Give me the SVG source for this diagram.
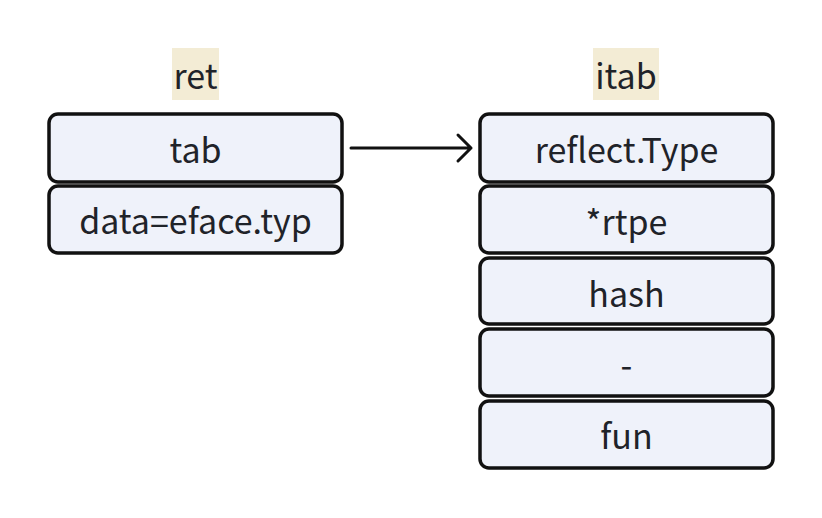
<svg xmlns="http://www.w3.org/2000/svg" width="822" height="518" viewBox="0 0 822 518">
<style>
.box{fill:#eff2fa;stroke:#111;stroke-width:3.5}
.hl{fill:#f3ecd5}
text{font-family:"Noto Sans CJK SC","Noto Sans",sans-serif;font-size:34px;fill:#1f2329;text-anchor:middle}
.conn{stroke:#111;stroke-width:3;fill:none;stroke-linecap:round;stroke-linejoin:round}
</style>
<rect width="822" height="518" fill="#fff"/>
<g id="label-ret"><rect class="hl" x="172" y="48" width="47" height="52"/><text x="195.5" y="89">ret</text></g>
<g id="label-itab"><rect class="hl" x="593" y="48" width="66" height="52"/><text x="626" y="89">itab</text></g>
<g id="ret-tab"><rect class="box" x="49" y="114" width="293" height="68" rx="9"/><text x="195.5" y="163">tab</text></g>
<g id="ret-data"><rect class="box" x="49" y="186" width="293" height="67" rx="9"/><text x="195.5" y="234">data=eface.typ</text></g>
<g id="itab-type"><rect class="box" x="480" y="114" width="293" height="68" rx="9"/><text x="626.5" y="163">reflect.Type</text></g>
<g id="itab-rtpe"><rect class="box" x="480" y="186" width="293" height="67" rx="9"/><text x="626.5" y="235">*rtpe</text></g>
<g id="itab-hash"><rect class="box" x="480" y="258" width="293" height="66" rx="9"/><text x="626.5" y="307">hash</text></g>
<g id="itab-dash"><rect class="box" x="480" y="329" width="293" height="67" rx="9"/><text x="626.5" y="378">-</text></g>
<g id="itab-fun"><rect class="box" x="480" y="401" width="293" height="67" rx="9"/><text x="626.5" y="449">fun</text></g>
<g id="connectors"><path class="conn" d="M351 148 H471 M458 135 L471 148 L458 161"/></g>
</svg>
